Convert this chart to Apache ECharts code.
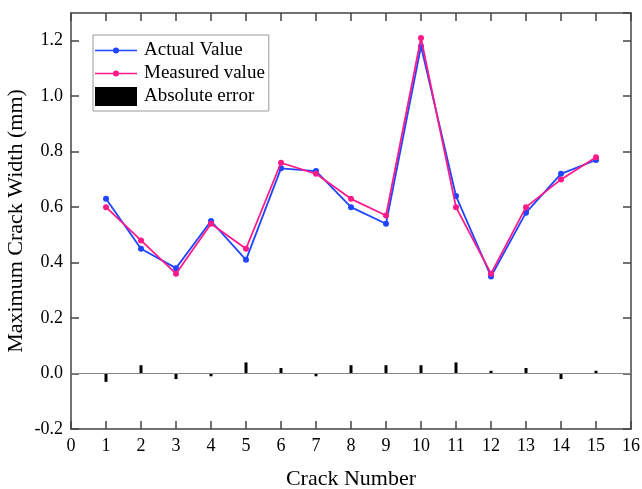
<!DOCTYPE html>
<html>
<head>
<meta charset="utf-8">
<script src="https://cdn.jsdelivr.net/npm/echarts@6/dist/echarts.min.js"></script>
<style>html,body{margin:0;padding:0;background:#fff}#c{width:642px;height:489px}</style>
</head>
<body>
<div id="c"></div>
<script>
const crackNumbers = [1,2,3,4,5,6,7,8,9,10,11,12,13,14,15];
const actualValue = [0.63,0.45,0.38,0.55,0.41,0.74,0.73,0.60,0.54,1.18,0.64,0.35,0.58,0.72,0.77];
const measuredValue = [0.60,0.48,0.36,0.54,0.45,0.76,0.72,0.63,0.57,1.21,0.60,0.36,0.60,0.70,0.78];
const absoluteError = [-0.03,0.03,-0.02,-0.01,0.04,0.02,-0.01,0.03,0.03,0.03,0.04,0.01,0.02,-0.02,0.01];
const yTicks = [-0.2,0.0,0.2,0.4,0.6,0.8,1.0,1.2];

const FONT = 'Liberation Serif';
const AX = '#444';
const pair = (xs, ys) => xs.map((x, i) => [x, ys[i]]);
const lineIcon = 'path://M0,8.2H18.5V9.8H0Z M23.5,8.2H42V9.8H23.5Z M18,9a3,3 0 1,1 6,0a3,3 0 1,1 -6,0Z';

const chart = echarts.init(document.getElementById('c'), null, {renderer: 'canvas'});
chart.setOption({
  animation: false,
  backgroundColor: '#fff',
  textStyle: {fontFamily: FONT},
  grid: {left: 71, right: 11, top: 13, bottom: 60, containLabel: false, outerBoundsMode: 'none'},
  legend: {
    left: 93, top: 35, orient: 'vertical',
    itemWidth: 42, itemHeight: 19, itemGap: 4,
    padding: [6, 4, 5, 2],
    borderColor: '#999', borderWidth: 1,
    symbolKeepAspect: true,
    textStyle: {fontFamily: FONT, fontSize: 19, color: '#000', padding: [0, 0, 0, 2]},
    data: [
      {name: 'Actual Value', icon: lineIcon},
      {name: 'Measured value', icon: lineIcon},
      {name: 'Absolute error', icon: 'rect'}
    ]
  },
  xAxis: [{
    type: 'value', min: 0, max: 16, interval: 1,
    name: 'Crack Number', nameLocation: 'middle', nameGap: 39, nameMoveOverlap: false,
    nameTextStyle: {fontFamily: FONT, fontSize: 22, color: '#000'},
    axisLine: {show: true, onZero: false, lineStyle: {color: AX, width: 1.5}},
    axisTick: {show: true, inside: true, length: 8, lineStyle: {color: AX, width: 1.5}},
    axisLabel: {fontFamily: FONT, fontSize: 18, color: '#000', margin: 8},
    splitLine: {show: false}
  }, {
    type: 'value', min: 0, max: 16, interval: 1, position: 'top',
    axisLine: {show: true, onZero: false, lineStyle: {color: AX, width: 1.5}},
    axisTick: {show: true, inside: true, length: 8, lineStyle: {color: AX, width: 1.5}},
    axisLabel: {show: false}, splitLine: {show: false}
  }],
  yAxis: [{
    type: 'value', min: -0.2, max: 1.3, interval: 0.2,
    name: 'Maximum Crack Width (mm)', nameLocation: 'middle', nameGap: 44, nameMoveOverlap: false,
    nameTextStyle: {fontFamily: FONT, fontSize: 22, color: '#000'},
    axisLine: {show: true, onZero: false, lineStyle: {color: AX, width: 1.5}},
    axisTick: {show: true, inside: true, length: 8, lineStyle: {color: AX, width: 1.5}},
    axisLabel: {fontFamily: FONT, fontSize: 18, color: '#000', margin: 8,
      showMaxLabel: false,
      formatter: v => { const t = yTicks.find(k => Math.abs(k - v) < 1e-6); return t === undefined ? '' : t.toFixed(1); }},
    splitLine: {show: false}
  }, {
    type: 'value', min: -0.2, max: 1.3, interval: 0.2, position: 'right',
    axisLine: {show: true, onZero: false, lineStyle: {color: AX, width: 1.5}},
    axisTick: {show: true, inside: true, length: 8, lineStyle: {color: AX, width: 1.5}},
    axisLabel: {show: false}, splitLine: {show: false}
  }],
  series: [
    {
      name: 'Absolute error', type: 'bar', xAxisIndex: 0, yAxisIndex: 0,
      data: pair(crackNumbers, absoluteError), barWidth: 3,
      itemStyle: {color: '#000'},
      markLine: {
        silent: true, symbol: 'none', label: {show: false},
        lineStyle: {color: '#888', width: 1.2, type: 'solid'},
        data: [{yAxis: 0}]
      },
      z: 1
    },
    {
      name: 'Actual Value', type: 'line', xAxisIndex: 0, yAxisIndex: 0,
      data: pair(crackNumbers, actualValue),
      symbol: 'circle', symbolSize: 6, showSymbol: true,
      lineStyle: {color: '#1f45ff', width: 1.8},
      itemStyle: {color: '#1f45ff'}, z: 3
    },
    {
      name: 'Measured value', type: 'line', xAxisIndex: 0, yAxisIndex: 0,
      data: pair(crackNumbers, measuredValue),
      symbol: 'circle', symbolSize: 6, showSymbol: true,
      lineStyle: {color: '#ff1a8a', width: 1.8},
      itemStyle: {color: '#ff1a8a'}, z: 4
    }
  ]
});
</script>
</body>
</html>
